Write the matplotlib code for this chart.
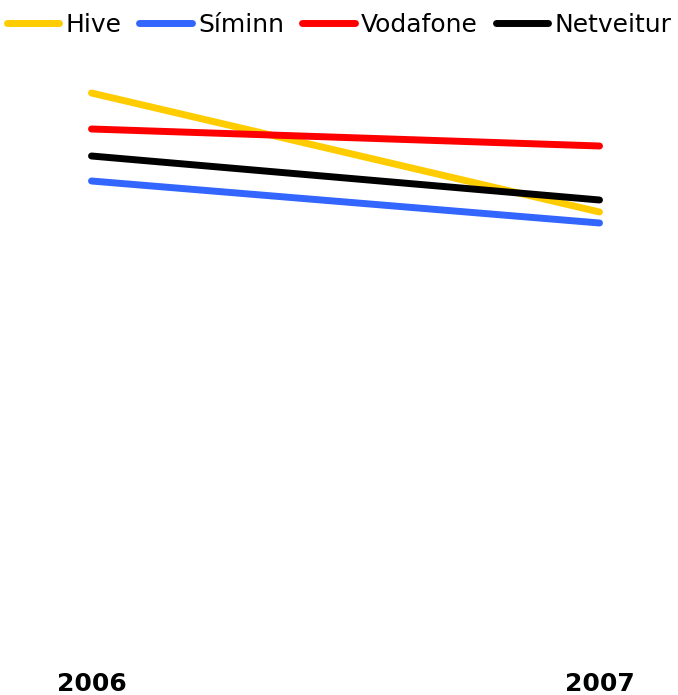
import numpy as np
import matplotlib
matplotlib.use('Agg')
import matplotlib.pyplot as plt

# data
years = [2006, 2007]
hive = [55.7, 43.8]
siminn = [46.9, 42.7]
vodafone = [52.1, 50.4]
netveitur = [49.4, 45.0]

W, H = 678, 695
fig = plt.figure(figsize=(W / 100, H / 100), dpi=100)
left, right = 91.5, 599.5
bottom, top = 650, 50
ax = fig.add_axes([left / W, (H - bottom) / H, (right - left) / W, (bottom - top) / H])

series = [('Hive', hive, '#ffcc00'),
          ('Síminn', siminn, '#3366ff'),
          ('Vodafone', vodafone, '#ff0000'),
          ('Netveitur', netveitur, '#000000')]
for name, vals, col in series:
    ax.plot(years, vals, color=col, lw=5, solid_capstyle='round', label=name, clip_on=False)

ax.set_xlim(2006, 2007)
ax.set_ylim(0, 60)
ax.set_xticks(years)
ax.set_xticklabels([str(y) for y in years], fontsize=18, fontweight='bold')
ax.tick_params(axis='x', length=0, pad=16)
ax.set_yticks([])
for s in ax.spines.values():
    s.set_visible(False)

fig.legend(loc='center', bbox_to_anchor=(0.5, 1 - 25 / H), ncol=4, frameon=False,
           fontsize=18, handlelength=2.1, handletextpad=0.25, columnspacing=0.72,
           borderaxespad=0, borderpad=0)

fig.savefig('out.png', dpi=100)
